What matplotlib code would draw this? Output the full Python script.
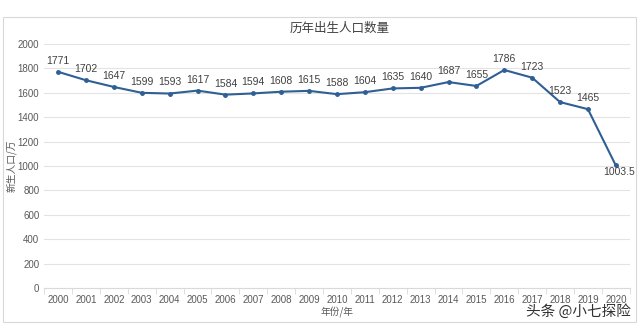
import matplotlib
matplotlib.use('Agg')
import matplotlib.pyplot as plt
import numpy as np
from matplotlib.patches import Rectangle

plt.rcParams['font.family'] = ['Noto Sans CJK SC', 'DejaVu Sans']

years = ['2000', '2001', '2002', '2003', '2004', '2005', '2006', '2007', '2008', '2009',
         '2010', '2011', '2012', '2013', '2014', '2015', '2016', '2017', '2018', '2019', '2020']
births = [1771, 1702, 1647, 1599, 1593, 1617, 1584, 1594, 1608, 1615,
          1588, 1604, 1635, 1640, 1687, 1655, 1786, 1723, 1523, 1465, 1003.5]
yticks = [0, 200, 400, 600, 800, 1000, 1200, 1400, 1600, 1800, 2000]

num_font = ['Liberation Sans Narrow', 'Liberation Sans', 'DejaVu Sans']

fig = plt.figure(figsize=(6.4, 3.25), dpi=100)
fig.patch.set_facecolor('white')
# outer chart border
fig.patches.append(Rectangle((0.005, 0.01), 0.988, 0.937, transform=fig.transFigure,
                             fill=False, edgecolor='#d9d9d9', linewidth=0.8))

ax = fig.add_axes([0.069, 0.114, 0.915, 0.751])
x = np.arange(len(years))
line_color = '#2f5f95'
ax.plot(x, births, color=line_color, linewidth=1.5, marker='o', markersize=2.5)

for i, v in enumerate(births):
    lab = '%g' % v
    if i == len(births) - 1:
        ax.annotate(lab, (i, v), xytext=(2, -5), textcoords='offset points',
                    ha='center', va='center', fontsize=7.5, color='#404040',
                    family=num_font)
    else:
        ax.annotate(lab, (i, v), xytext=(0, 8), textcoords='offset points',
                    ha='center', va='center', fontsize=7.5, color='#404040',
                    family=num_font)

ax.set_xlim(-0.5, len(years) - 0.5)
ax.set_ylim(0, 2000)
ax.set_yticks(yticks)
ax.set_yticklabels([str(t) for t in yticks], fontsize=7, color='#595959', family=num_font)
ax.set_xticks(x)
ax.set_xticklabels(years, fontsize=7, color='#595959', family=num_font)
ax.set_xticks(np.arange(-0.5, len(years), 1), minor=True)
ax.tick_params(axis='x', which='major', length=0, pad=5)
ax.tick_params(axis='x', which='minor', length=4, color='#d9d9d9')
ax.tick_params(axis='y', length=0, pad=3.5)
ax.grid(axis='y', color='#e3e3e3', linewidth=0.8)
ax.set_axisbelow(True)
for s in ['top', 'right', 'left']:
    ax.spines[s].set_visible(False)
ax.spines['bottom'].set_color('#d9d9d9')

fig.text(0.53, 0.914, '历年出生人口数量', ha='center', va='center', fontsize=9, color='#404040')
fig.text(0.018, 0.49, '新生人口/万', rotation=90, ha='center', va='center', fontsize=7, color='#595959')
fig.text(0.527, 0.04, '年份/年', ha='center', va='center', fontsize=7, color='#595959')
fig.text(0.985, 0.043, '头条 @小七探险', ha='right', va='center', fontsize=10.5, color='#303030')

fig.savefig('out.png', dpi=100)
